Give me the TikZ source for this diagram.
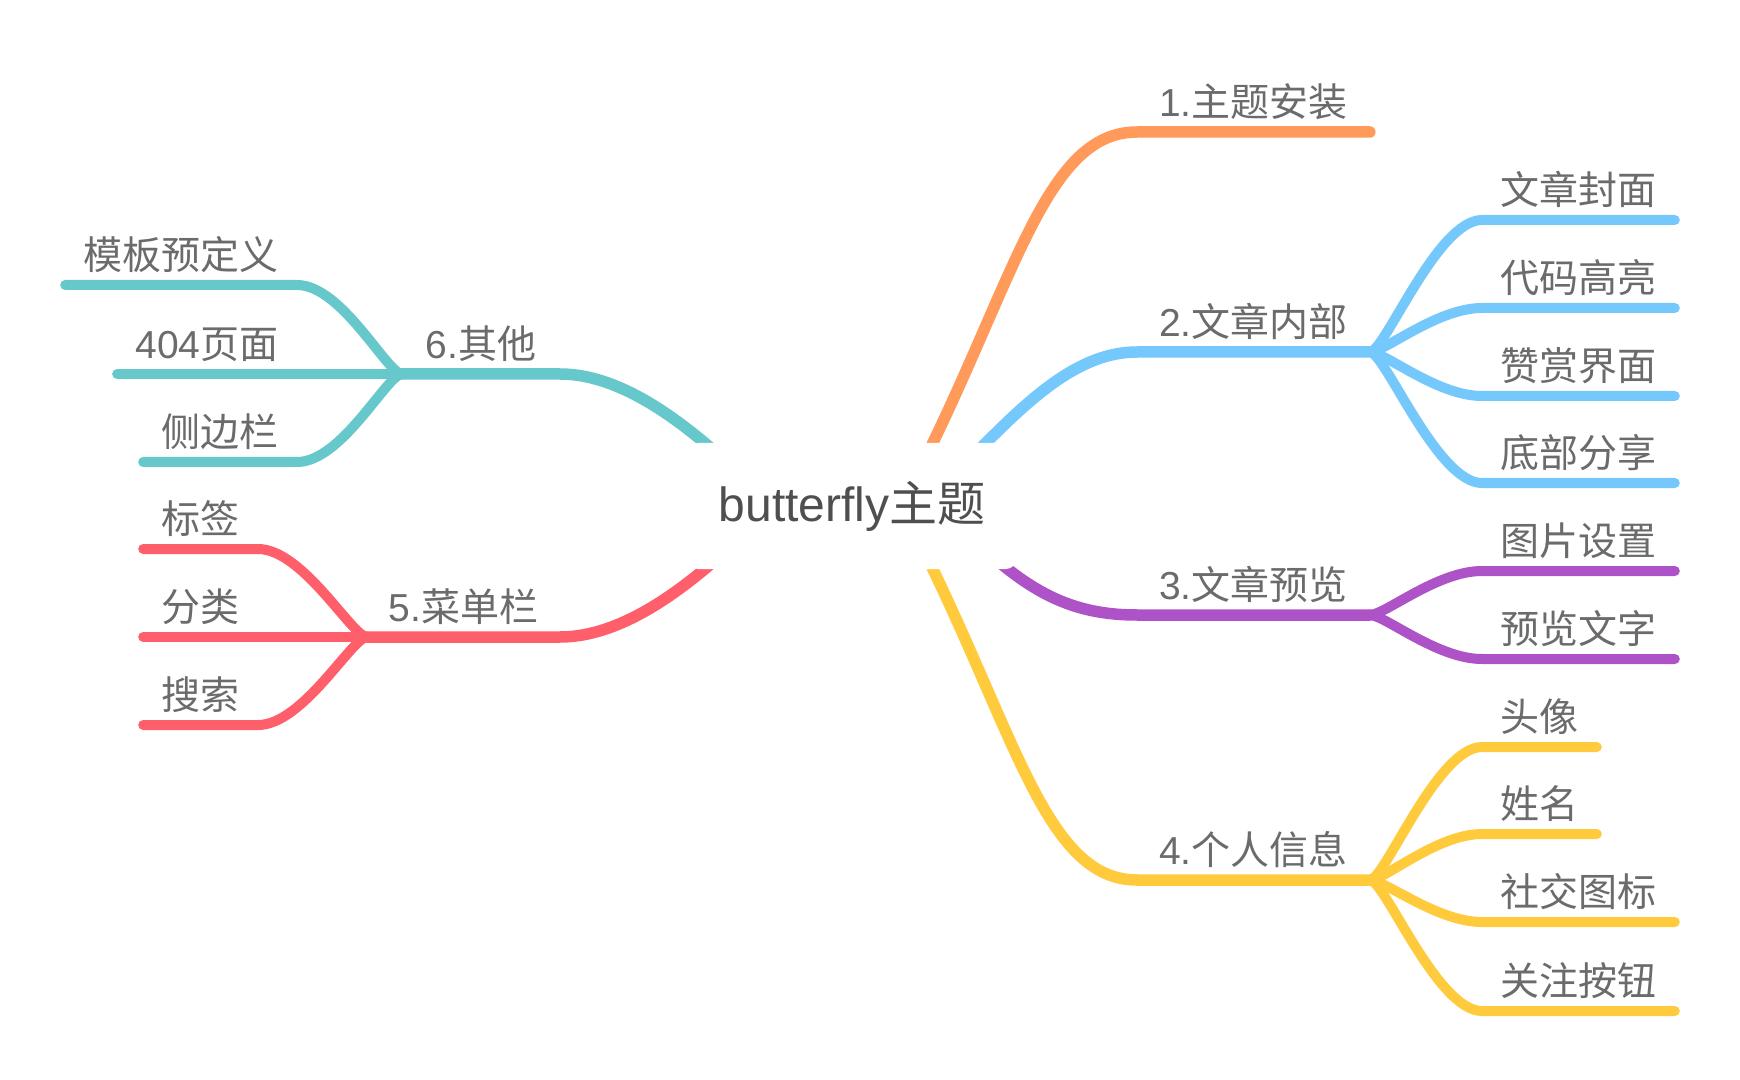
\documentclass[tikz,border=0pt]{standalone}
\usepackage{fontspec}
\setmainfont{Liberation Sans}
\newfontfamily\cjk{Noto Sans CJK SC}
\usetikzlibrary{calc,backgrounds}
\definecolor{cOrange}{HTML}{FF9A5A}
\definecolor{cBlue}{HTML}{74C8FC}
\definecolor{cPurple}{HTML}{AE52C7}
\definecolor{cYellow}{HTML}{FFCB3D}
\definecolor{cRed}{HTML}{FF5F6B}
\definecolor{cTeal}{HTML}{67C8CC}
\definecolor{txt}{HTML}{6B6B6B}
\definecolor{roottxt}{HTML}{4F4F4F}
\begin{document}
\begin{tikzpicture}[x=0.5pt,y=-0.5pt,
  lbl/.style={inner xsep=9pt, inner ysep=7.5pt, text depth=0pt, text=txt,
    font=\fontsize{19.5pt}{23pt}\selectfont},
  mainr/.style={lbl, anchor=south west, minimum width=116pt},
  mainl/.style={lbl, anchor=south east},
  subr/.style={lbl, anchor=south west},
  subl/.style={lbl, anchor=south east},
  mainline/.style={line width=5.75pt, line cap=round},
  subline/.style={line width=5pt, line cap=round},
  rootbox/.style={fill=white, rounded corners=5pt, minimum width=164pt,
    minimum height=63pt, inner sep=0pt, text=roottxt,
    font=\fontsize{24pt}{28pt}\selectfont}
]
\useasboundingbox (0,0) rectangle (1740,1080);

% root
\node[rootbox] (root) at (852,506) {butterfly{\cjk 主题}};

% main branches
\node[mainr] (b1) at (1137,132) {1.{\cjk 主题安装}};
\node[mainr] (b2) at (1137,352) {2.{\cjk 文章内部}};
\node[mainr] (b3) at (1137,615) {3.{\cjk 文章预览}};
\node[mainr] (b4) at (1137,880) {4.{\cjk 个人信息}};
\node[mainl, minimum width=96pt] (b5) at (560,637) {5.{\cjk 菜单栏}};
\node[mainl, minimum width=78.5pt] (b6) at (560,374) {6.{\cjk 其他}};

% children right
\node[subr] (c21) at (1482,220) {\cjk 文章封面};
\node[subr] (c22) at (1482,308) {\cjk 代码高亮};
\node[subr] (c23) at (1482,396) {\cjk 赞赏界面};
\node[subr] (c24) at (1482,483) {\cjk 底部分享};
\node[subr] (c31) at (1482,571) {\cjk 图片设置};
\node[subr] (c32) at (1482,659) {\cjk 预览文字};
\node[subr] (c41) at (1482,747) {\cjk 头像};
\node[subr] (c42) at (1482,834) {\cjk 姓名};
\node[subr] (c43) at (1482,922) {\cjk 社交图标};
\node[subr] (c44) at (1482,1011) {\cjk 关注按钮};

% children left
\node[subl] (c61) at (297,285) {\cjk 模板预定义};
\node[subl] (c62) at (297,374) {404{\cjk 页面}};
\node[subl] (c63) at (297,462) {\cjk 侧边栏};
\node[subl] (c51) at (258,549) {\cjk 标签};
\node[subl] (c52) at (258,637) {\cjk 分类};
\node[subl] (c53) at (258,725) {\cjk 搜索};

\begin{scope}[on background layer]
\fill[white] (0,0) rectangle (1740,1080);
% root connectors
\draw[mainline,cOrange] ($(root.center)+(72,-45)$) .. controls ($(root.center)+(165,-233)$) and ($(b1.south west)+(-90,0)$) .. (b1.south west) -- (b1.south east);
\draw[mainline,cBlue] ($(root.center)+(119,-48)$) .. controls ($(root.center)+(175,-105)$) and ($(b2.south west)+(-60,0)$) .. (b2.south west) -- (b2.south east);
\draw[mainline,cPurple] ($(root.center)+(140,50)$) .. controls ($(root.center)+(189,93)$) and ($(b3.south west)+(-55,0)$) .. (b3.south west) -- (b3.south east);
\draw[mainline,cYellow] ($(root.center)+(72,45)$) .. controls ($(root.center)+(165,233)$) and ($(b4.south west)+(-90,0)$) .. (b4.south west) -- (b4.south east);
\draw[mainline,cTeal] ($(root.center)+(-132,-50)$) .. controls ($(root.center)+(-173,-86)$) and ($(b6.south east)+(60,0)$) .. (b6.south east) -- (b6.south west);
\draw[mainline,cRed] ($(root.center)+(-132,50)$) .. controls ($(root.center)+(-173,86)$) and ($(b5.south east)+(60,0)$) .. (b5.south east) -- (b5.south west);

% child connectors right
\foreach \c in {c21,c22,c23,c24}
  \draw[subline,cBlue] (b2.south east) .. controls ($(b2.south east)+(15,0)$) and ($(\c.south west)+(-45,0)$) .. (\c.south west) -- (\c.south east);
\foreach \c in {c31,c32}
  \draw[subline,cPurple] (b3.south east) .. controls ($(b3.south east)+(15,0)$) and ($(\c.south west)+(-45,0)$) .. (\c.south west) -- (\c.south east);
\foreach \c in {c41,c42,c43,c44}
  \draw[subline,cYellow] (b4.south east) .. controls ($(b4.south east)+(15,0)$) and ($(\c.south west)+(-45,0)$) .. (\c.south west) -- (\c.south east);

% child connectors left
\foreach \c in {c61,c63}
  \draw[subline,cTeal] (b6.south west) .. controls ($(b6.south west)+(-15,0)$) and ($(\c.south east)+(45,0)$) .. (\c.south east) -- (\c.south west);
\draw[subline,cTeal] (b6.south west) -- (c62.south east) -- (c62.south west);
\foreach \c in {c51,c53}
  \draw[subline,cRed] (b5.south west) .. controls ($(b5.south west)+(-15,0)$) and ($(\c.south east)+(45,0)$) .. (\c.south east) -- (\c.south west);
\draw[subline,cRed] (b5.south west) -- (c52.south east) -- (c52.south west);
\end{scope}
\end{tikzpicture}
\end{document}
